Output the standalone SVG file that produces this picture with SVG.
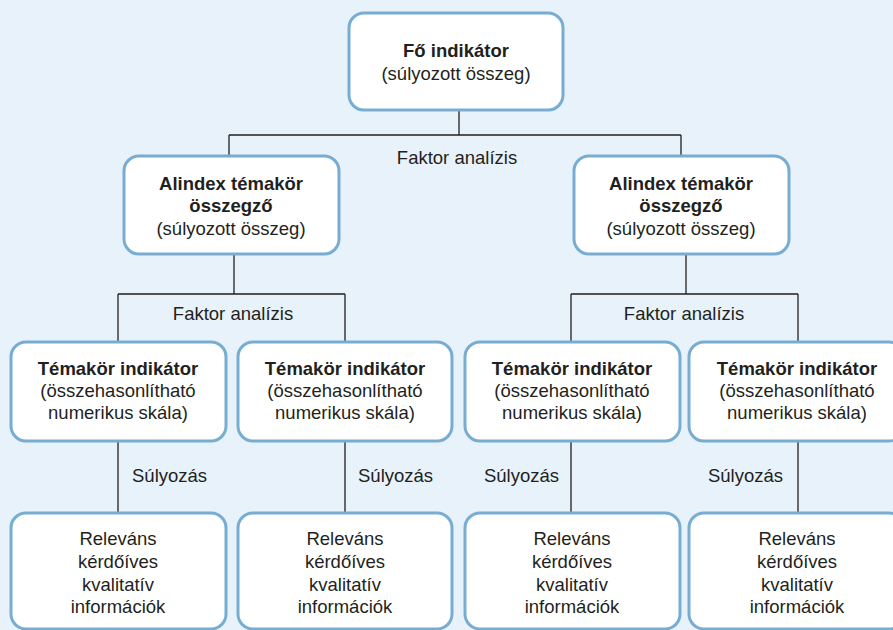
<svg xmlns="http://www.w3.org/2000/svg" width="893" height="630" viewBox="0 0 893 630">
<style>
.box{fill:#ffffff;stroke:#78add3;stroke-width:3}
.ln{fill:none;stroke:#231f20;stroke-width:1.3}
text{font-family:"Liberation Sans","Open Sans",Arial,sans-serif;font-size:18.5px;fill:#231f20;text-anchor:middle}
.b{font-weight:bold}
.s{text-anchor:start}
.e{text-anchor:end}
</style>
<rect x="0" y="0" width="893" height="630" fill="#e7f2fa"/>
<g id="connectors">
<path class="ln" d="M459 110V135M229 135H681M229 135V156M681 135V156"/>
<path class="ln" d="M234 254V294M118 294H345M118 294V342M345 294V342"/>
<path class="ln" d="M686 254V294M571 294H798M571 294V342M798 294V342"/>
<path class="ln" d="M118 441V513M345 441V513M571 441V513M798 441V513"/>
<text x="457" y="164">Faktor analízis</text>
<text x="233" y="320">Faktor analízis</text>
<text x="684" y="320">Faktor analízis</text>
<text class="s" x="132" y="482">Súlyozás</text>
<text class="s" x="358" y="482">Súlyozás</text>
<text class="e" x="559" y="482">Súlyozás</text>
<text class="e" x="783" y="482">Súlyozás</text>
</g>
<g id="main">
<rect class="box" x="349" y="13" width="214" height="97" rx="15"/>
<text class="b" x="456" y="57">Fő indikátor</text>
<text x="456" y="80">(súlyozott összeg)</text>
</g>
<g id="sub-left">
<rect class="box" x="124" y="156" width="215" height="98" rx="15"/>
<text class="b" x="231" y="190">Alindex témakör</text>
<text class="b" x="231" y="212">összegző</text>
<text x="231" y="235">(súlyozott összeg)</text>
</g>
<g id="sub-right">
<rect class="box" x="574" y="156" width="215" height="98" rx="15"/>
<text class="b" x="681" y="190">Alindex témakör</text>
<text class="b" x="681" y="212">összegző</text>
<text x="681" y="235">(súlyozott összeg)</text>
</g>
<g id="topic-1">
<rect class="box" x="11" y="342" width="215" height="99" rx="15"/>
<text class="b" x="118" y="375">Témakör indikátor</text>
<text x="118" y="397">(összehasonlítható</text>
<text x="118" y="419">numerikus skála)</text>
</g>
<g id="topic-2">
<rect class="box" x="238" y="342" width="214" height="99" rx="15"/>
<text class="b" x="345" y="375">Témakör indikátor</text>
<text x="345" y="397">(összehasonlítható</text>
<text x="345" y="419">numerikus skála)</text>
</g>
<g id="topic-3">
<rect class="box" x="465" y="342" width="215" height="99" rx="15"/>
<text class="b" x="572" y="375">Témakör indikátor</text>
<text x="572" y="397">(összehasonlítható</text>
<text x="572" y="419">numerikus skála)</text>
</g>
<g id="topic-4">
<rect class="box" x="689" y="342" width="215" height="99" rx="15"/>
<text class="b" x="797" y="375">Témakör indikátor</text>
<text x="797" y="397">(összehasonlítható</text>
<text x="797" y="419">numerikus skála)</text>
</g>
<g id="info-1">
<rect class="box" x="11" y="513" width="215" height="116" rx="15"/>
<text x="118" y="545">Releváns</text>
<text x="118" y="568">kérdőíves</text>
<text x="118" y="591">kvalitatív</text>
<text x="118" y="613">információk</text>
</g>
<g id="info-2">
<rect class="box" x="238" y="513" width="214" height="116" rx="15"/>
<text x="345" y="545">Releváns</text>
<text x="345" y="568">kérdőíves</text>
<text x="345" y="591">kvalitatív</text>
<text x="345" y="613">információk</text>
</g>
<g id="info-3">
<rect class="box" x="465" y="513" width="215" height="116" rx="15"/>
<text x="572" y="545">Releváns</text>
<text x="572" y="568">kérdőíves</text>
<text x="572" y="591">kvalitatív</text>
<text x="572" y="613">információk</text>
</g>
<g id="info-4">
<rect class="box" x="689" y="513" width="215" height="116" rx="15"/>
<text x="797" y="545">Releváns</text>
<text x="797" y="568">kérdőíves</text>
<text x="797" y="591">kvalitatív</text>
<text x="797" y="613">információk</text>
</g>
</svg>
